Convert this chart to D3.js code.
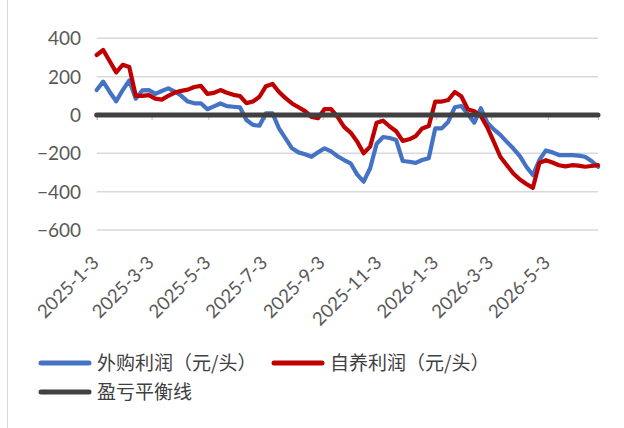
<!DOCTYPE html>
<html><head><meta charset="utf-8">
<script src="https://cdn.jsdelivr.net/npm/d3@7"></script>
<style>
html,body{margin:0;padding:0;background:#fff;}
svg{display:block;}
</style></head>
<body>
<svg id="chart" width="624" height="428"></svg>
<script>
const dates = [
"2025-01-03","2025-01-10","2025-01-17","2025-01-24","2025-01-31",
"2025-02-07","2025-02-14","2025-02-21","2025-02-28",
"2025-03-07","2025-03-14","2025-03-21","2025-03-28",
"2025-04-04","2025-04-11","2025-04-18","2025-04-25",
"2025-05-02","2025-05-09","2025-05-16","2025-05-23","2025-05-30",
"2025-06-06","2025-06-13","2025-06-20","2025-06-27",
"2025-07-04","2025-07-11","2025-07-18","2025-07-25",
"2025-08-01","2025-08-08","2025-08-15","2025-08-22","2025-08-29",
"2025-09-05","2025-09-12","2025-09-19","2025-09-26",
"2025-10-03","2025-10-10","2025-10-17","2025-10-24","2025-10-31",
"2025-11-07","2025-11-14","2025-11-21","2025-11-28",
"2025-12-05","2025-12-12","2025-12-19","2025-12-26",
"2026-01-02","2026-01-09","2026-01-16","2026-01-23","2026-01-30",
"2026-02-06","2026-02-13","2026-02-20","2026-02-27",
"2026-03-06","2026-03-13","2026-03-20","2026-03-27",
"2026-04-03","2026-04-10","2026-04-17","2026-04-24",
"2026-05-01","2026-05-08","2026-05-15","2026-05-22","2026-05-29",
"2026-06-05","2026-06-12","2026-06-19","2026-06-26"];

// 外购利润（元/头）
const purchased = [130,174,120,72,130,180,85,128,130,110,125,139,122,100,70,61,61,30,45,60,
46,43,40,-26,-52,-56,9,9,-70,-122,-174,-195,-205,-218,-195,-174,-190,-215,-235,-252,
-310,-348,-278,-150,-115,-120,-131,-240,-244,-250,-235,-226,-70,-70,-35,40,47,5,-40,35,
-40,-75,-104,-140,-175,-215,-270,-313,-235,-185,-195,-209,-209,-209,-212,-218,-240,-270];

// 自养利润（元/头）
const selfBred = [313,339,280,222,262,250,100,100,104,85,80,100,117,126,132,146,152,110,115,130,
116,105,99,62,70,95,150,162,120,88,60,40,20,-10,-17,31,31,-10,-62,-92,
-138,-200,-165,-40,-30,-60,-85,-135,-127,-110,-70,-58,70,70,78,120,98,30,20,-5,
-65,-140,-218,-262,-305,-337,-360,-380,-250,-236,-248,-262,-268,-262,-264,-270,-266,-262];

// 盈亏平衡线
const breakEven = dates.map(() => 0);

const yTicks = [400,200,0,-200,-400,-600];
const xTickDates = ["2025-01-03","2025-03-03","2025-05-03","2025-07-03","2025-09-03","2025-11-03","2026-01-03","2026-03-03","2026-05-03"];
const xTickLabels = ["2025-1-3","2025-3-3","2025-5-3","2025-7-3","2025-9-3","2025-11-3","2026-1-3","2026-3-3","2026-5-3"];

const seriesNames = ["外购利润（元/头）","自养利润（元/头）","盈亏平衡线"];
const seriesColors = ["#4472C4","#C00000","#404040"];

(function(){
const parse = d3.timeParse("%Y-%m-%d");
const dts = dates.map(parse);
const tickDates = xTickDates.map(parse);

const svg = d3.select("#chart");
const pLeft = 96.7, pRight = 598, pTop = 38.3, pBottom = 230;

const x = d3.scaleTime().domain([dts[0], dts[dts.length-1]]).range([pLeft, pRight]);
const y = d3.scaleLinear().domain([-600, 400]).range([pBottom, pTop]);

// outer border (left edge)
svg.append("line").attr("x1",7.5).attr("x2",7.5).attr("y1",0).attr("y2",428)
  .attr("stroke","#d9d9d9").attr("stroke-width",1);

// gridlines
svg.append("g").selectAll("line").data(yTicks).join("line")
  .attr("x1", pLeft).attr("x2", pRight)
  .attr("y1", d => y(d)).attr("y2", d => y(d))
  .attr("stroke", "#d9d9d9").attr("stroke-width", 1.5);

// y axis labels
const yAxis = d3.axisLeft(y).tickValues(yTicks).tickSize(0).tickPadding(0)
  .tickFormat(d => d < 0 ? "\u2212" + Math.abs(d) : d);
const gy = svg.append("g").attr("transform", `translate(81,0)`).call(yAxis);
gy.select(".domain").remove();
gy.selectAll("text").attr("font-family","Lato, 'Open Sans', sans-serif").attr("font-size",19).attr("fill","#595959").attr("dy","0.34em");

// x axis at zero with tick marks
const xAxis = d3.axisBottom(x).tickValues(tickDates).tickSize(5).tickFormat("");
const gx = svg.append("g").attr("transform", `translate(0,${y(0)})`).call(xAxis);
gx.select(".domain").attr("stroke","#bfbfbf");
gx.selectAll(".tick line").attr("stroke","#bfbfbf").attr("stroke-width",1);

// x labels (low position)
svg.append("g").selectAll("text").data(tickDates).join("text")
  .attr("transform", (d) => `translate(${x(d) + 3.5},${264}) rotate(-45)`)
  .attr("text-anchor","end")
  .attr("font-family","Lato, 'Open Sans', sans-serif")
  .attr("font-size",18.5)
  .attr("fill","#595959")
  .text((d,i) => xTickLabels[i]);

// lines
const line = d3.line().x((d,i) => x(dts[i])).y(d => y(d));
const allSeries = [purchased, selfBred, breakEven];
allSeries.forEach((s, k) => {
  svg.append("path").datum(s)
    .attr("d", line)
    .attr("fill","none")
    .attr("stroke", seriesColors[k])
    .attr("stroke-width", k === 2 ? 5 : 4.2)
    .attr("stroke-linejoin","round")
    .attr("stroke-linecap","round");
});

// legend
const legendItems = [
  {name: seriesNames[0], color: seriesColors[0], x: 41, y: 363},
  {name: seriesNames[1], color: seriesColors[1], x: 274, y: 363},
  {name: seriesNames[2], color: seriesColors[2], x: 41, y: 392}
];
const lg = svg.append("g").selectAll("g").data(legendItems).join("g")
  .attr("transform", d => `translate(${d.x},${d.y})`);
lg.append("line").attr("x1",0).attr("x2",48).attr("y1",0).attr("y2",0)
  .attr("stroke", d => d.color).attr("stroke-width",5).attr("stroke-linecap","round");
lg.append("text").attr("x",56).attr("y",0).attr("dy","0.36em")
  .attr("font-family","'Noto Sans CJK SC', sans-serif").attr("font-size",19)
  .attr("fill","#404040")
  .text(d => d.name);
})();
</script>
</body></html>
